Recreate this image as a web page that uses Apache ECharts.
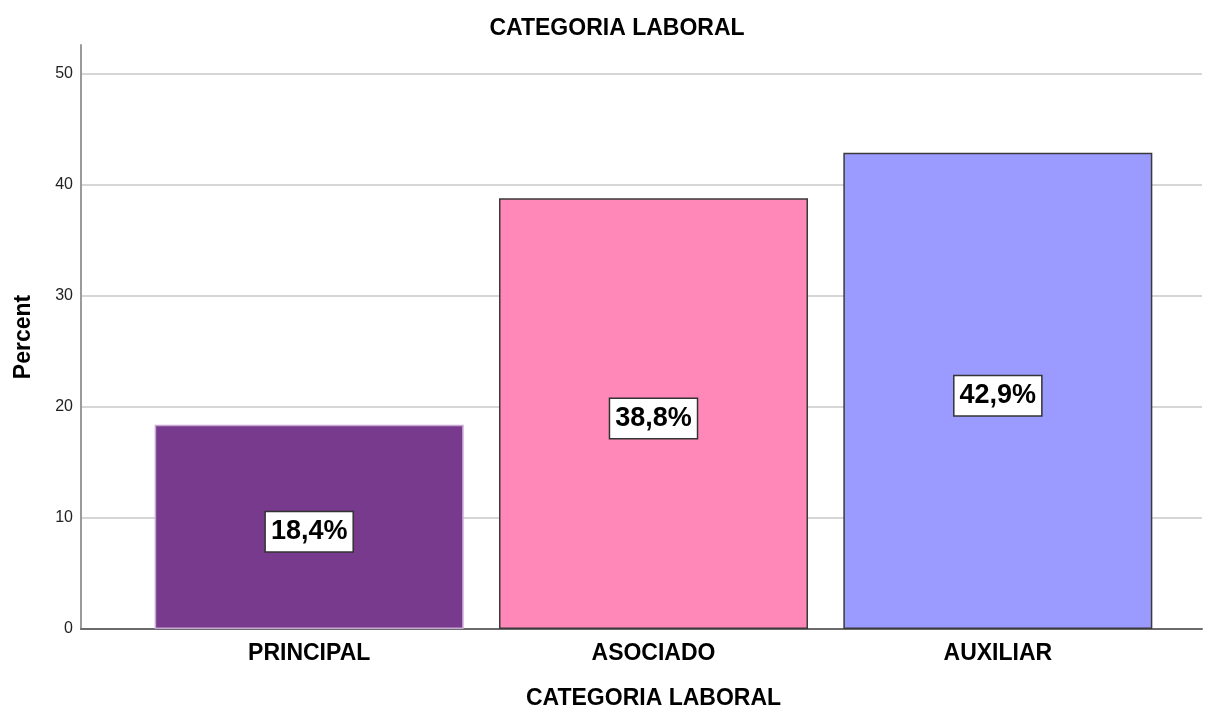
<!DOCTYPE html>
<html>
<head>
<meta charset="utf-8">
<script src="https://cdn.jsdelivr.net/npm/echarts@6/dist/echarts.min.js"></script>
<style>
  html, body { margin: 0; padding: 0; background: #fff; }
  #chart { width: 1217px; height: 711px; }
</style>
</head>
<body>
<div id="chart"></div>
<script>
// Job category distribution (percent of staff)
const categories = ['PRINCIPAL', 'ASOCIADO', 'AUXILIAR'];
const percents = [18.4, 38.8, 42.9];
const yTicks = [0, 10, 20, 30, 40, 50];

const barColors = ['#783a8c', '#ff88b8', '#9b9bff'];
const barBorders = ['#c6a8d2', '#3a3a3a', '#3a3a3a'];

const FONT = '"Liberation Sans", Arial, sans-serif';
const Y_MAX = 52.6;

const chart = echarts.init(document.getElementById('chart'), null, { renderer: 'canvas' });

chart.setOption({
  backgroundColor: '#ffffff',
  animation: false,
  title: {
    text: 'CATEGORIA LABORAL',
    left: 612, textAlign: 'center',
    top: 12,
    textStyle: { fontFamily: FONT, fontSize: 23, fontWeight: 'bold', color: '#000' }
  },
  grid: [
    { left: 81, right: 15, top: 45, bottom: 82, outerBoundsMode: 'none', containLabel: false },
    { left: 137, width: 1033, top: 45, bottom: 82, outerBoundsMode: 'none', containLabel: false }
  ],
  xAxis: [
    {
      gridIndex: 0, type: 'value', min: 0, max: 1,
      axisLine: { show: true, lineStyle: { color: '#6b6b6b', width: 2 } },
      axisTick: { show: false }, axisLabel: { show: false }, splitLine: { show: false }
    },
    {
      gridIndex: 1, type: 'category', data: categories,
      axisLine: { show: false }, axisTick: { show: false },
      axisLabel: { margin: 13, fontFamily: FONT, fontSize: 23, fontWeight: 'bold', color: '#000' },
      name: 'CATEGORIA LABORAL', nameLocation: 'middle', nameGap: 58,
      nameTextStyle: { fontFamily: FONT, fontSize: 23, fontWeight: 'bold', color: '#000' }
    }
  ],
  yAxis: [
    {
      gridIndex: 0, type: 'value', min: 0, max: Y_MAX, interval: 10,
      axisLine: { show: true, lineStyle: { color: '#9a9a9a', width: 2 } },
      axisTick: { show: false },
      axisLabel: {
        margin: 8, fontFamily: FONT, fontSize: 16, color: '#222',
        padding: [4, 0, 0, 0],
        showMaxLabel: false,
        formatter: v => (yTicks.indexOf(v) >= 0 ? String(v) : '')
      },
      splitLine: { show: true, showMinLine: false, showMaxLine: false, lineStyle: { color: '#d6d6d6', width: 2 } },
      name: 'Percent', nameLocation: 'middle', nameGap: 46, nameRotate: 90,
      nameTextStyle: { fontFamily: FONT, fontSize: 23, fontWeight: 'bold', color: '#000' }
    },
    { gridIndex: 1, type: 'value', min: 0, max: Y_MAX, show: false }
  ],
  series: [{
    type: 'bar',
    xAxisIndex: 1, yAxisIndex: 1,
    barWidth: 309,
    data: percents.map((v, i) => ({
      value: v,
      itemStyle: { color: barColors[i], borderColor: barBorders[i], borderWidth: 1.5 }
    })),
    label: {
      show: true, position: 'inside', offset: [0, 5],
      formatter: p => p.value.toFixed(1).replace('.', ',') + '%',
      fontFamily: FONT, fontSize: 27, fontWeight: 'bold', color: '#000',
      backgroundColor: '#ffffff', borderColor: '#333', borderWidth: 1.5,
      padding: [7, 5, 5, 5]
    }
  }]
});
</script>
</body>
</html>
